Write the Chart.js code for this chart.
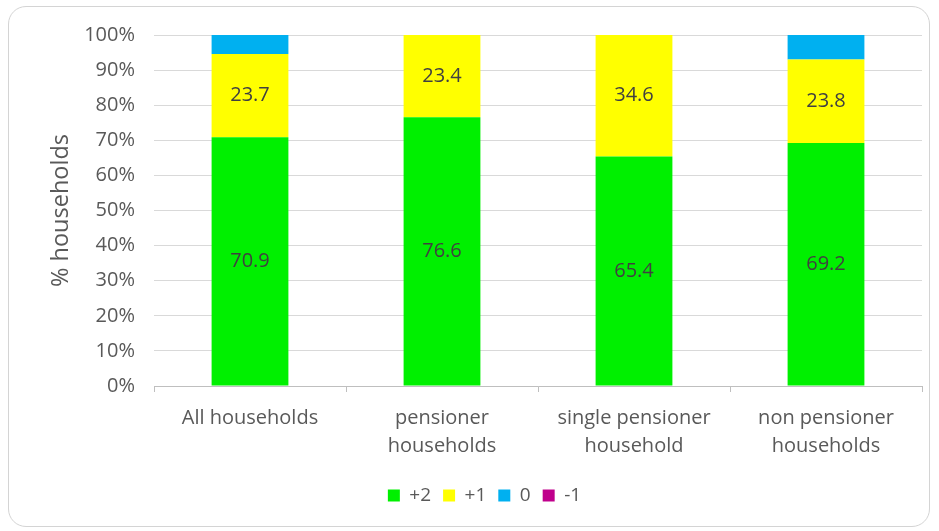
<!DOCTYPE html>
<html>
<head>
<meta charset="utf-8">
<script src="https://cdn.jsdelivr.net/npm/chart.js@4/dist/chart.umd.min.js"></script>
<style>
  html, body { margin: 0; padding: 0; background: #fff; }
  #wrap { position: relative; width: 939px; height: 531px; }
  #frame {
    position: absolute; left: 8px; top: 6px; width: 920px; height: 519px;
    border: 1.5px solid #d4d4d4; border-radius: 18px;
  }
  #chart { position: absolute; left: 0; top: 0; }
</style>
</head>
<body>
<div id="wrap">
  <div id="frame"></div>
  <canvas id="chart" width="939" height="531"></canvas>
</div>
<script>
// datos (% de hogares)
const categorias = ['All households', ['pensioner', 'households'], ['single pensioner', 'household'], ['non pensioner', 'households']];
const serieMas2 = [70.9, 76.6, 65.4, 69.2];
const serieMas1 = [23.7, 23.4, 34.6, 23.8];
const serieCero = [5.4, 0, 0, 7.0];
const serieMenos1 = [0, 0, 0, 0];
const ticksY = [0, 10, 20, 30, 40, 50, 60, 70, 80, 90, 100];

const fuente = "'Open Sans', 'Liberation Sans', sans-serif";
const gris = '#595959';

// plugin sencillo para las etiquetas dentro de las barras
const etiquetasBarras = {
    id: 'etiquetasBarras',
    afterDatasetsDraw(chart) {
        const ctx = chart.ctx;
        ctx.save();
        ctx.font = '20px ' + fuente;
        ctx.fillStyle = '#404040';
        ctx.textAlign = 'center';
        ctx.textBaseline = 'middle';
        [0, 1].forEach(i => {
            const meta = chart.getDatasetMeta(i);
            meta.data.forEach((bar, j) => {
                const v = chart.data.datasets[i].data[j];
                if (!v) return;
                ctx.fillText(v.toFixed(1), bar.x, (bar.y + bar.base) / 2);
            });
        });
        ctx.restore();
    }
};

new Chart(document.getElementById('chart'), {
    type: 'bar',
    data: {
        labels: categorias,
        datasets: [
            { label: '+2', data: serieMas2, backgroundColor: '#00f000' },
            { label: '+1', data: serieMas1, backgroundColor: '#ffff00' },
            { label: '0', data: serieCero, backgroundColor: '#00b0f0' },
            { label: '-1', data: serieMenos1, backgroundColor: '#c0008c' }
        ]
    },
    options: {
        responsive: false,
        animation: false,
        devicePixelRatio: 1,
        layout: { padding: { top: 35, left: 47, right: 17, bottom: 16 } },
        datasets: { bar: { categoryPercentage: 1, barPercentage: 0.4 } },
        scales: {
            x: {
                stacked: true,
                afterFit: scale => { scale.height += 2; },
                grid: { display: true, drawOnChartArea: false, offset: true, tickLength: 6, color: '#bfbfbf' },
                border: { color: '#bfbfbf' },
                ticks: { color: gris, font: { family: fuente, size: 20, lineHeight: 1.4 }, padding: 12, maxRotation: 0 }
            },
            y: {
                stacked: true,
                min: 0,
                max: 100,
                afterFit: scale => { scale.width = 107; },
                afterBuildTicks: scale => { scale.ticks = ticksY.map(v => ({ value: v })); },
                grid: { color: '#d9d9d9', drawTicks: false },
                border: { display: false },
                ticks: {
                    color: gris,
                    font: { family: fuente, size: 20 },
                    padding: 19,
                    callback: v => v + '%'
                },
                title: { display: true, text: '% households', color: gris, font: { family: fuente, size: 23.5 }, padding: 0 }
            }
        },
        plugins: {
            legend: {
                position: 'bottom',
                labels: { boxWidth: 12, boxHeight: 12, color: gris, font: { family: fuente, size: 19 }, padding: 12 }
            },
            tooltip: { enabled: false }
        }
    },
    plugins: [etiquetasBarras]
});
</script>
</body>
</html>
